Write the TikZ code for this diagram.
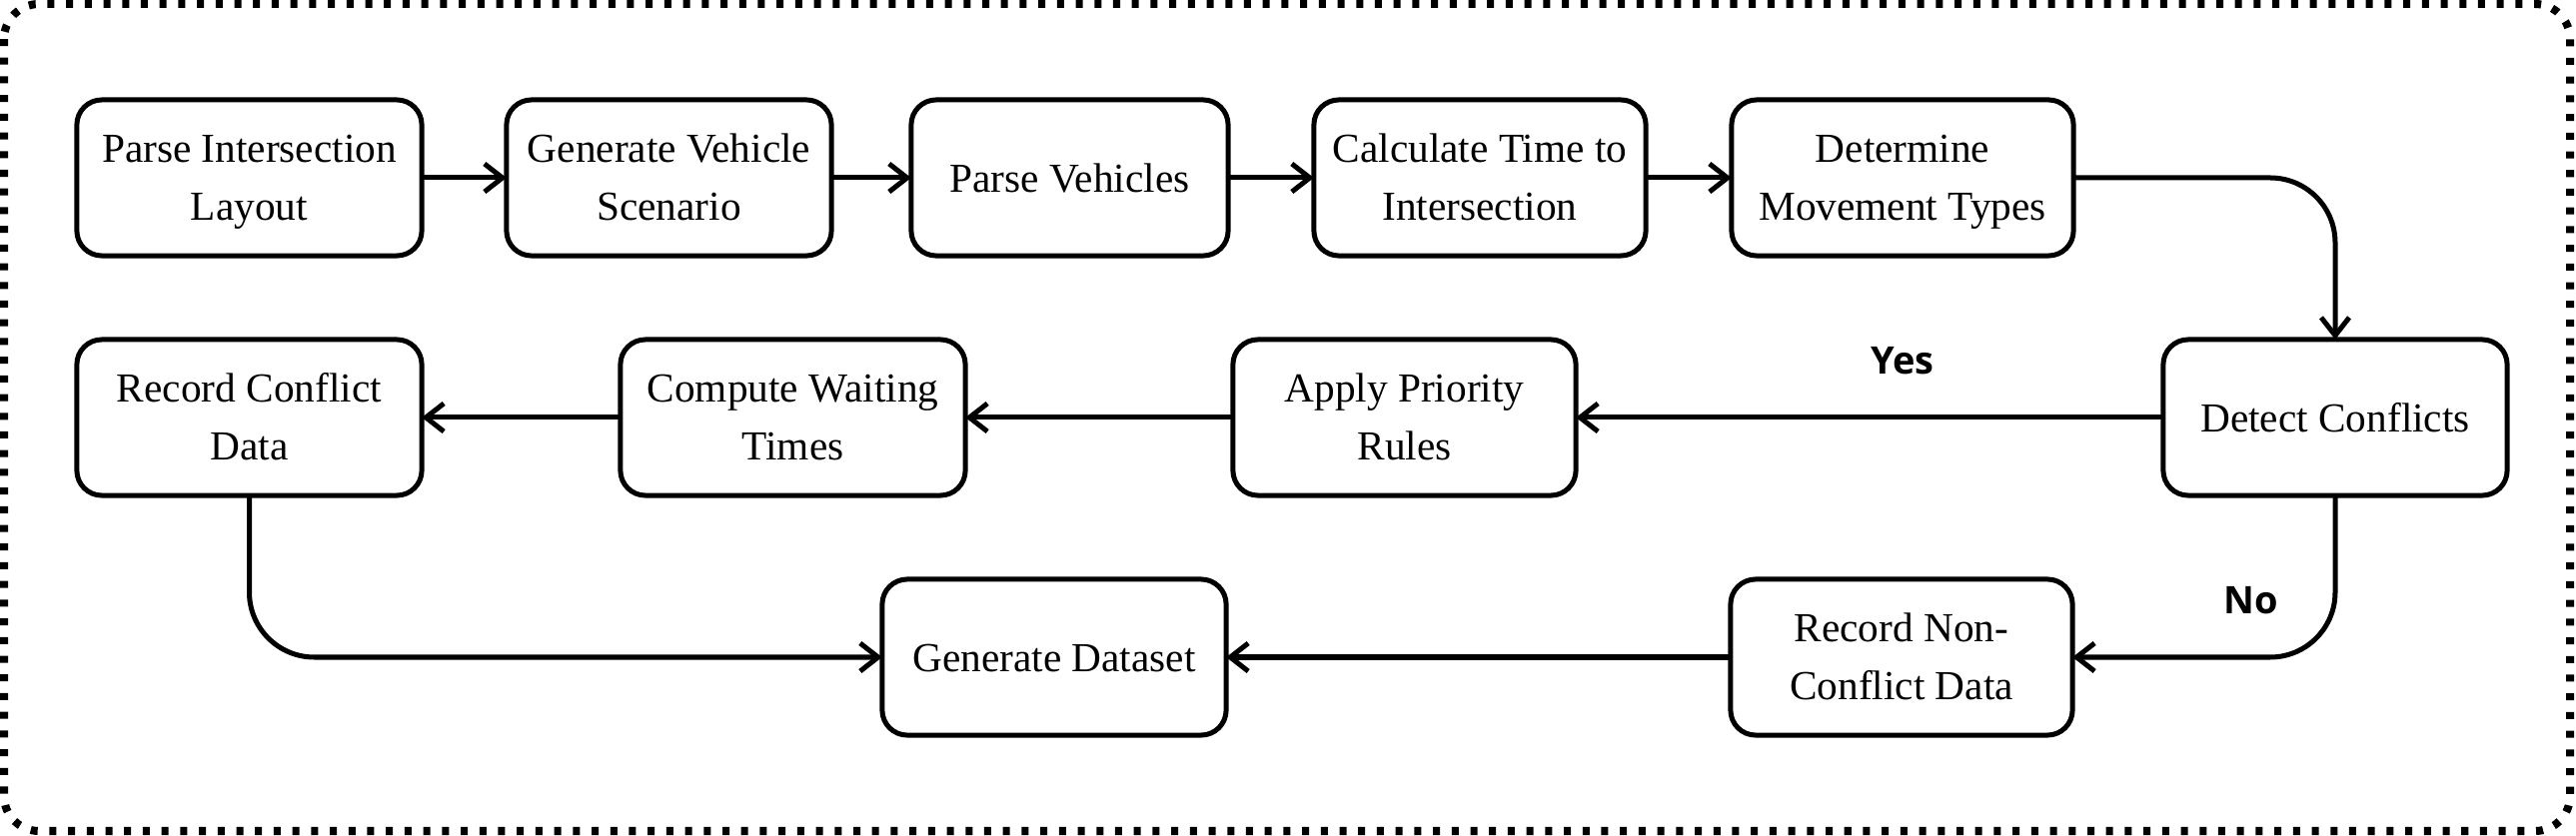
\documentclass[tikz,border=0pt]{standalone}
\usepackage{fontspec}
\setmainfont{Liberation Serif}
\newfontfamily\labelfont{Open Sans}
\usetikzlibrary{arrows.meta}
\tikzset{
  stepbox/.style={draw, line width=0.05cm, rounded corners=0.25cm, rectangle,
    minimum height=1.56cm, inner sep=0pt, outer sep=0pt, align=center,
    font=\fontsize{11.75}{16.3}\selectfont},
  twoline/.style={text height=0.84cm, text depth=0cm},
  oneline/.style={text height=0.28cm, text depth=0cm},
  arr/.style={line width=0.05cm, line join=round,
    -{Straight Barb[length=0.18cm,width=0.28cm,line join=miter]}},
  lbl/.style={font=\labelfont\bfseries\fontsize{10.8}{13}\selectfont, inner sep=0pt},
  frame/.style={line width=0.08cm, dash pattern=on 0.07cm off 0.117cm, rounded corners=0.35cm}
}
\begin{document}
\begin{tikzpicture}[x=0.01cm,y=-0.01cm]
\useasboundingbox (0,0) rectangle (2578,837);
\draw[frame] (4,4) rectangle (2572,832);
% row 1
\node[stepbox, twoline, minimum width=3.45cm] (A) at (249.5,178) {Parse Intersection\\Layout};
\node[stepbox, twoline, minimum width=3.25cm] (B) at (669.5,178) {Generate Vehicle\\Scenario};
\node[stepbox, oneline, minimum width=3.17cm] (C) at (1070.5,178) {Parse Vehicles};
\node[stepbox, twoline, minimum width=3.32cm] (D) at (1481,178) {Calculate Time to\\Intersection};
\node[stepbox, twoline, minimum width=3.42cm] (E) at (1904,178) {Determine\\Movement Types};
% row 2
\node[stepbox, twoline, minimum width=3.45cm] (F) at (249.5,418) {Record Conflict\\Data};
\node[stepbox, twoline, minimum width=3.45cm] (G) at (793.5,418) {Compute Waiting\\Times};
\node[stepbox, twoline, minimum width=3.43cm] (H) at (1405.5,418) {Apply Priority\\Rules};
\node[stepbox, oneline, minimum width=3.44cm] (I) at (2337,418) {Detect Conflicts};
% row 3
\node[stepbox, oneline, minimum width=3.44cm] (J) at (1055,658) {Generate Dataset};
\node[stepbox, twoline, minimum width=3.42cm] (K) at (1903,658) {Record Non-\\Conflict Data};
% connectors
\draw[arr] (A) -- (B);
\draw[arr] (B) -- (C);
\draw[arr] (C) -- (D);
\draw[arr] (D) -- (E);
\draw[arr, rounded corners=0.65cm] (E.east) -| (I.north);
\draw[arr] (I) -- (H);
\draw[arr] (H) -- (G);
\draw[arr] (G) -- (F);
\draw[arr, rounded corners=0.65cm] (I.south) |- (K.east);
\draw[arr] (K) -- (J);
\draw[arr, rounded corners=0.65cm] (F.south) |- (J.west);
% labels
\node[lbl] (yes) at (1904,361) {Yes};
\node[lbl] (no) at (2253,601) {No};
\end{tikzpicture}
\end{document}
